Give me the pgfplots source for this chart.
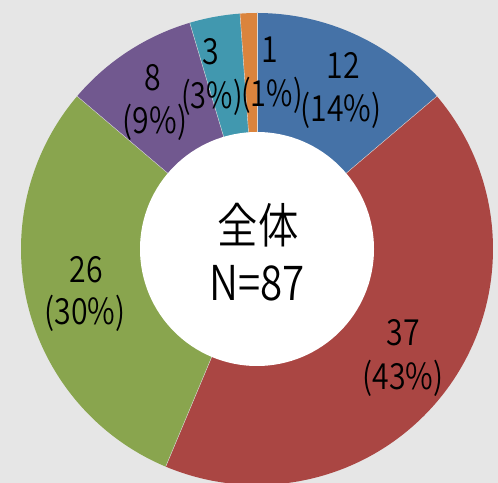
\documentclass[border=0pt]{standalone}
\usepackage{pgfplots}
\usepackage{pgfplotstable}
\pgfplotsset{compat=1.18}
\usepackage{fontspec}
\setmainfont{Noto Sans CJK JP}
\newfontfamily\jp[FakeStretch=0.84]{Noto Sans CJK JP DemiLight}
\newfontfamily\jpn[FakeStretch=0.8]{Noto Sans CJK JP DemiLight}
\definecolor{bggray}{HTML}{E6E6E6}
\definecolor{cblue}{HTML}{4572A7}
\definecolor{cred}{HTML}{AA4643}
\definecolor{cgreen}{HTML}{89A54E}
\definecolor{cpurple}{HTML}{71588F}
\definecolor{cteal}{HTML}{4198AF}
\definecolor{corange}{HTML}{DB843D}
\definecolor{sepcol}{HTML}{D8D8D8}
\pgfplotstableread{
value pct
12 14
37 43
26 30
8 9
3 3
1 1
}\donutdata
\begin{document}
\begin{tikzpicture}
\pgfplotstablegetelem{0}{value}\of\donutdata \let\vA\pgfplotsretval
\pgfplotstablegetelem{1}{value}\of\donutdata \let\vB\pgfplotsretval
\pgfplotstablegetelem{2}{value}\of\donutdata \let\vC\pgfplotsretval
\pgfplotstablegetelem{3}{value}\of\donutdata \let\vD\pgfplotsretval
\pgfplotstablegetelem{4}{value}\of\donutdata \let\vE\pgfplotsretval
\pgfplotstablegetelem{5}{value}\of\donutdata \let\vF\pgfplotsretval
\pgfmathsetmacro\total{\vA+\vB+\vC+\vD+\vE+\vF}
\pgfmathsetmacro\aA{90}
\pgfmathsetmacro\aB{\aA-360*\vA/\total}
\pgfmathsetmacro\aC{\aB-360*\vB/\total}
\pgfmathsetmacro\aD{\aC-360*\vC/\total}
\pgfmathsetmacro\aE{\aD-360*\vD/\total}
\pgfmathsetmacro\aF{\aE-360*\vE/\total}
\pgfmathsetmacro\aG{\aF-360*\vF/\total}
\begin{axis}[
  width=498bp, height=483bp, scale only axis,
  xmin=0, xmax=498, ymin=0, ymax=483,
  hide axis, clip=true, clip mode=global,
]
\fill[bggray] (rel axis cs:0,0) rectangle (rel axis cs:1,1);
\fill[cblue]   (axis cs:257,234) -- ++(\aA:236bp) arc[start angle=\aA, end angle=\aB, radius=236bp] -- cycle;
\fill[cred]    (axis cs:257,234) -- ++(\aB:236bp) arc[start angle=\aB, end angle=\aC, radius=236bp] -- cycle;
\fill[cgreen]  (axis cs:257,234) -- ++(\aC:236bp) arc[start angle=\aC, end angle=\aD, radius=236bp] -- cycle;
\fill[cpurple] (axis cs:257,234) -- ++(\aD:236bp) arc[start angle=\aD, end angle=\aE, radius=236bp] -- cycle;
\fill[cteal]   (axis cs:257,234) -- ++(\aE:236bp) arc[start angle=\aE, end angle=\aF, radius=236bp] -- cycle;
\fill[corange] (axis cs:257,234) -- ++(\aF:236bp) arc[start angle=\aF, end angle=\aG, radius=236bp] -- cycle;
\draw[sepcol, line width=0.4bp] (axis cs:257,234) -- ++(\aA:236bp);
\draw[sepcol, line width=0.4bp] (axis cs:257,234) -- ++(\aB:236bp);
\draw[sepcol, line width=0.4bp] (axis cs:257,234) -- ++(\aC:236bp);
\draw[sepcol, line width=0.4bp] (axis cs:257,234) -- ++(\aD:236bp);
\draw[sepcol, line width=0.4bp] (axis cs:257,234) -- ++(\aE:236bp);
\draw[sepcol, line width=0.4bp] (axis cs:257,234) -- ++(\aF:236bp);
\fill[white] (axis cs:257,234) circle[radius=117bp];
\node[font=\jp\fontsize{36bp}{36bp}\selectfont, inner sep=0pt] at (axis cs:343,418) {12};
\node[font=\jp\fontsize{36bp}{36bp}\selectfont, inner sep=0pt] at (axis cs:341,373) {(14\%)};
\node[font=\jp\fontsize{36bp}{36bp}\selectfont, inner sep=0pt] at (axis cs:403,150) {37};
\node[font=\jp\fontsize{36bp}{36bp}\selectfont, inner sep=0pt] at (axis cs:403,105) {(43\%)};
\node[font=\jp\fontsize{36bp}{36bp}\selectfont, inner sep=0pt] at (axis cs:86,213) {26};
\node[font=\jp\fontsize{36bp}{36bp}\selectfont, inner sep=0pt] at (axis cs:85,170) {(30\%)};
\node[font=\jp\fontsize{36bp}{36bp}\selectfont, inner sep=0pt] at (axis cs:153,405) {8};
\node[font=\jp\fontsize{36bp}{36bp}\selectfont, inner sep=0pt] at (axis cs:155,361) {(9\%)};
\node[font=\jp\fontsize{36bp}{36bp}\selectfont, inner sep=0pt] at (axis cs:211,431) {3};
\node[font=\jpn\fontsize{36bp}{36bp}\selectfont, inner sep=0pt] at (axis cs:212,386) {(3\%)};
\node[font=\jp\fontsize{36bp}{36bp}\selectfont, inner sep=0pt] at (axis cs:270,433) {1};
\node[font=\jpn\fontsize{36bp}{36bp}\selectfont, inner sep=0pt] at (axis cs:272,388) {(1\%)};
\node[font=\jp\fontsize{48bp}{48bp}\selectfont, inner sep=0pt] at (axis cs:258,258) {全体};
\node[font=\jp\fontsize{48bp}{48bp}\selectfont, inner sep=0pt] at (axis cs:257,200) {N=87};
\end{axis}
\end{tikzpicture}
\end{document}
